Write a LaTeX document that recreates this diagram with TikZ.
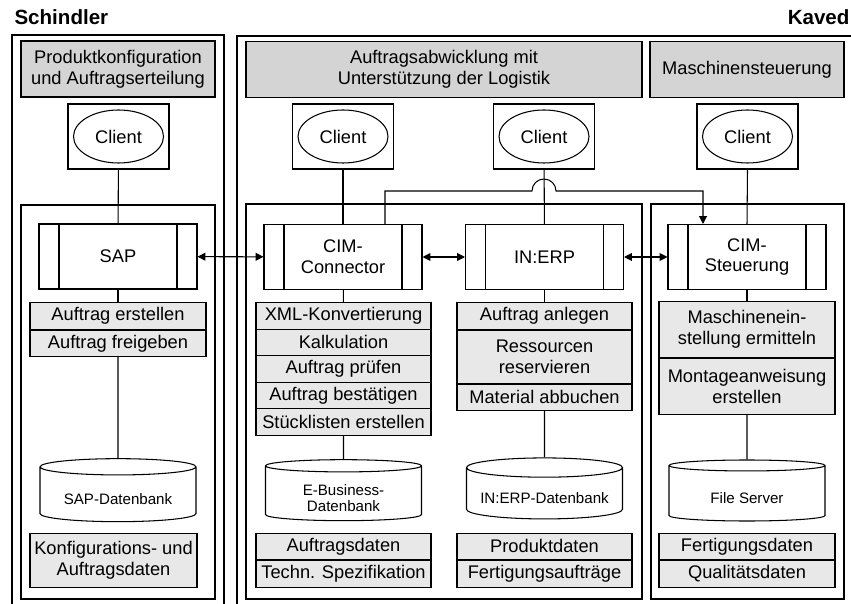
\documentclass[tikz,border=0pt]{standalone}
\usepackage{fontspec}
\setmainfont{Liberation Sans}
\usetikzlibrary{shapes.geometric,arrows.meta,calc}
\newlength\px
\setlength\px{0.02cm}
\definecolor{headgray}{HTML}{D4D4D4}
\definecolor{rowgray}{HTML}{E8E8E8}
\newcommand\txtfont{\fontsize{10.4}{11.8}\selectfont}
\newcommand\dbtext[1]{\raisebox{-6pt}[0pt][0pt]{\begin{tabular}{@{}c@{}}#1\end{tabular}}}
\tikzset{
  head/.style={
    draw,
    fill=headgray,
    minimum height=56\px,
    inner sep=0pt,
    align=center,
    font=\txtfont
  },
  clientbox/.style={
    draw,
    line width=1.1pt,
    minimum width=101\px,
    minimum height=65\px
  },
  clientell/.style={
    draw,
    shape=ellipse,
    inner sep=0pt,
    minimum width=90\px,
    minimum height=53\px,
    font=\txtfont
  },
  sysbox/.style={
    draw,
    minimum width=158\px,
    minimum height=65\px,
    inner sep=0pt,
    align=center,
    font=\txtfont,
    path picture={
      \draw ([xshift=20\px]path picture bounding box.north west) -- ([xshift=20\px]path picture bounding box.south west);
      \draw ([xshift=-20\px]path picture bounding box.north east) -- ([xshift=-20\px]path picture bounding box.south east);
    }
  },
  row/.style={
    draw,
    fill=rowgray,
    anchor=north,
    minimum width=175\px,
    minimum height=#1\px,
    inner sep=0pt,
    align=center,
    font=\txtfont
  },
  row/.default=26.5,
  db/.style={
    draw,
    shape=cylinder,
    shape border rotate=90,
    aspect=0.15,
    minimum width=156\px,
    minimum height=61\px,
    inner sep=0pt,
    font=\fontsize{8.6}{9.2}\selectfont
  },
  title/.style={
    font=\bfseries\fontsize{11.7}{14}\selectfont,
    inner sep=0pt
  },
  arr/.style={
    {Triangle[length=4.5pt,width=4.5pt]}-{Triangle[length=4.5pt,width=4.5pt]}
  }
}

\begin{document}
\begin{tikzpicture}[x=0.02cm,y=-0.02cm,line width=0.6pt]
\useasboundingbox (0,0) rectangle (851,604);
\node[title, anchor=base west] (schindler) at (14,25) {Schindler};
\node[title, anchor=base east] (kaved) at (850,25) {Kaved};
% frames
\draw (12,604) |- (224,35) -- (224,604);
\draw (237,604) |- (851,36);
\draw (21,599) rectangle (215,205);
\draw (246,599) rectangle (642,204);
\draw (651,599) rectangle (844,204);
\node[head, minimum width=194\px] (hd1) at (118,69) {Produktkonfiguration\\und Auftragserteilung};
\node[head, minimum width=396\px] (hd2) at (444,69.5) {Auftragsabwicklung mit\\Unterstützung der Logistik};
\node[head, minimum width=194\px] (hd3) at (747,69.5) {Maschinensteuerung};
\foreach \x [count=\i] in {118.5,343,544,747.5}{
  \node[clientbox] (cl\i) at (\x,136.5) {};
  \node[clientell] (ce\i) at (\x,136.5) {Client};
}
\node[sysbox] (sap) at (118,256.5) {SAP};
\node[sysbox] (cimc) at (343,257) {CIM-\\Connector};
\node[sysbox] (iep) at (544.5,257) {IN:ERP};
\node[sysbox] (cims) at (747,257) {CIM-\\Steuerung};
% SAP
\node[row, minimum width=176\px] (sr1) at (118,302) {Auftrag erstellen};
\node[row, minimum width=176\px] (sr2) at (sr1.south) {Auftrag freigeben};
\node[db, minimum height=63\px] (sdb) at (118,494.5) {\dbtext{SAP-Datenbank}};
\node[row=54, minimum width=167\px] (sd1) at (113.5,533) {Konfigurations- und\\Auftragsdaten};
% CIM-Connector
\foreach \t [count=\i] in {XML-Konvertierung,Kalkulation,Auftrag prüfen,Auftrag bestätigen,Stücklisten erstellen}{
  \node[row] (cr\i) at (343.5,{302+26.5*(\i-1)}) {\t};
}
\node[db] (cdb) at (343.5,493.5) {\dbtext{E-Business-\\Datenbank}};
\node[row] (cd1) at (343.5,532.5) {Auftragsdaten};
\node[row] (cd2) at (cd1.south) {Techn. Spezifikation};
% IN:ERP
\node[row] (ir1) at (544.5,302) {Auftrag anlegen};
\node[row=53] (ir2) at (ir1.south) {Ressourcen\\reservieren};
\node[row] (ir3) at (ir2.south) {Material abbuchen};
\node[db] (idb) at (544.5,493.5) {\dbtext{IN:ERP-Datenbank}};
\node[row] (id1) at (544.5,532.5) {Produktdaten};
\node[row] (id2) at (id1.south) {Fertigungsaufträge};
% CIM-Steuerung
\node[row=56, minimum width=176\px] (mr1) at (747,301) {Maschinenein-\\stellung ermitteln};
\node[row=56, minimum width=176\px] (mr2) at (mr1.south) {Montageanweisung\\erstellen};
\node[db] (mdb) at (747,493.5) {\dbtext{File Server}};
\node[row, minimum width=176\px] (md1) at (747,532.5) {Fertigungsdaten};
\node[row, minimum width=176\px] (md2) at (md1.south) {Qualitätsdaten};
% connectors
\draw (cl1) -- (sap);
\draw (sap) -- (sr1);
\draw (sr2) -- (sdb);
\draw (cl2) -- (cimc);
\draw (cimc) -- (cr1);
\draw (cr5) -- (cdb);
\draw (cl3) -- (iep);
\draw (iep) -- (ir1);
\draw (ir3) -- (idb);
\draw (cl4.south) -- (cims.north);
\draw (cims) -- (mr1);
\draw (mr2) -- (mdb);
\draw[arr] (sap) -- (cimc);
\draw[arr] (cimc) -- (iep);
\draw[arr] (iep) -- (cims);
\coordinate (hopl) at (532,191);
\draw[-{Triangle[length=4.5pt,width=4.5pt]}] ([xshift=42\px]cimc.north) |- (hopl) arc[start angle=180,end angle=0,radius=0.24cm] -| ([xshift=-44\px]cims.north);
\end{tikzpicture}
\end{document}
